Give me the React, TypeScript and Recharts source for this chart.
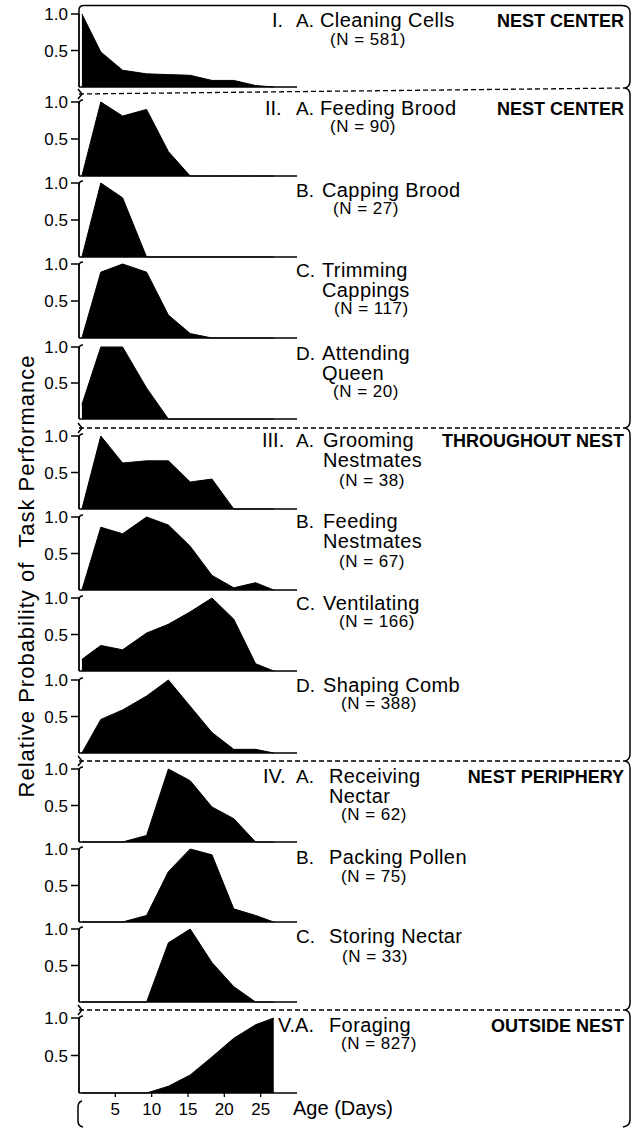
import React from 'react';
import { Area, AreaChart, XAxis, YAxis } from 'recharts';

// ages (days) at which the task probabilities were plotted
const days = [0.4, 3, 6, 9.3, 12.3, 15.3, 18.3, 21.3, 24.3, 26.8];
const xTicks = [5, 10, 15, 20, 25];
const yTicks = [0.5, 1];

// relative probability of task performance, one array per task
const cleaningCells = [1.0, 0.48, 0.23, 0.18, 0.17, 0.16, 0.09, 0.09, 0.02, 0];
const feedingBrood = [0, 1.0, 0.81, 0.9, 0.33, 0, 0, 0, 0, 0];
const cappingBrood = [0, 1.0, 0.8, 0, 0, 0, 0, 0, 0, 0];
const trimmingCappings = [0, 0.89, 1.0, 0.89, 0.31, 0.06, 0, 0, 0, 0];
const attendingQueen = [0.2, 1.0, 1.0, 0.43, 0, 0, 0, 0, 0, 0];
const groomingNestmates = [0, 1.0, 0.63, 0.66, 0.66, 0.37, 0.41, 0, 0, 0];
const feedingNestmates = [0, 0.86, 0.77, 1.0, 0.89, 0.6, 0.2, 0.03, 0.1, 0];
const ventilating = [0.16, 0.35, 0.29, 0.52, 0.64, 0.81, 1.0, 0.71, 0.1, 0];
const shapingComb = [0, 0.46, 0.59, 0.78, 1.0, 0.64, 0.28, 0.05, 0.05, 0];
const receivingNectar = [0, 0, 0, 0.09, 1.0, 0.84, 0.48, 0.32, 0, 0];
const packingPollen = [0, 0, 0, 0.09, 0.69, 1.0, 0.92, 0.18, 0.09, 0];
const storingNectar = [0, 0, 0, 0, 0.81, 1.0, 0.54, 0.21, 0, 0];
const foraging = [0, 0, 0, 0, 0.09, 0.24, 0.48, 0.73, 0.91, 1.0];

const tasks = [
  { key: 'cleaning', values: cleaningCells, roman: 'I.', letter: 'A.', name: ['Cleaning Cells'], n: '(N = 581)', zone: 'NEST CENTER' },
  { key: 'feedBrood', values: feedingBrood, roman: 'II.', letter: 'A.', name: ['Feeding Brood'], n: '(N = 90)', zone: 'NEST CENTER' },
  { key: 'capping', values: cappingBrood, roman: '', letter: 'B.', name: ['Capping Brood'], n: '(N = 27)', zone: '' },
  { key: 'trimming', values: trimmingCappings, roman: '', letter: 'C.', name: ['Trimming', 'Cappings'], n: '(N = 117)', zone: '' },
  { key: 'queen', values: attendingQueen, roman: '', letter: 'D.', name: ['Attending', 'Queen'], n: '(N = 20)', zone: '' },
  { key: 'grooming', values: groomingNestmates, roman: 'III.', letter: 'A.', name: ['Grooming', 'Nestmates'], n: '(N = 38)', zone: 'THROUGHOUT NEST' },
  { key: 'feedNest', values: feedingNestmates, roman: '', letter: 'B.', name: ['Feeding', 'Nestmates'], n: '(N = 67)', zone: '' },
  { key: 'ventilating', values: ventilating, roman: '', letter: 'C.', name: ['Ventilating'], n: '(N = 166)', zone: '' },
  { key: 'shaping', values: shapingComb, roman: '', letter: 'D.', name: ['Shaping Comb'], n: '(N = 388)', zone: '' },
  { key: 'receiving', values: receivingNectar, roman: 'IV.', letter: 'A.', name: ['Receiving', 'Nectar'], n: '(N = 62)', zone: 'NEST PERIPHERY' },
  { key: 'pollen', values: packingPollen, roman: '', letter: 'B.', name: ['Packing Pollen'], n: '(N = 75)', zone: '' },
  { key: 'storing', values: storingNectar, roman: '', letter: 'C.', name: ['Storing Nectar'], n: '(N = 33)', zone: '' },
  { key: 'foraging', values: foraging, roman: 'V.A.', letter: '', name: ['Foraging'], n: '(N = 827)', zone: 'OUTSIDE NEST' },
];

const table = days.map((day, i) => {
  const row: Record<string, number> = { day };
  tasks.forEach((t) => (row[t.key] = t.values[i]));
  return row;
});

// page layout (pixels): plot top (1.0) / baseline (0) and text positions
const layout = [
  { top: 14, base: 87, romanX: 272, nameX: 320, nX: 330, nameY: 27, nY: 45 },
  { top: 102, base: 176, romanX: 265, nameX: 320, nX: 330, nameY: 115, nY: 132 },
  { top: 183, base: 257, romanX: 0, nameX: 322, nX: 333, nameY: 197, nY: 214 },
  { top: 264, base: 338, romanX: 0, nameX: 322, nX: 334, nameY: 277, nY: 314 },
  { top: 347, base: 419, romanX: 0, nameX: 322, nX: 333, nameY: 360, nY: 397 },
  { top: 436, base: 509, romanX: 262, nameX: 323, nX: 339, nameY: 447, nY: 486 },
  { top: 517, base: 590, romanX: 0, nameX: 323, nX: 339, nameY: 528, nY: 567 },
  { top: 598, base: 671, romanX: 0, nameX: 323, nX: 339, nameY: 610, nY: 627 },
  { top: 680, base: 753, romanX: 0, nameX: 323, nX: 341, nameY: 692, nY: 709 },
  { top: 769, base: 842, romanX: 263, nameX: 329, nX: 341, nameY: 783, nY: 820 },
  { top: 849, base: 922, romanX: 0, nameX: 329, nX: 341, nameY: 864, nY: 882 },
  { top: 929, base: 1002, romanX: 0, nameX: 329, nX: 342, nameY: 943, nY: 962 },
  { top: 1018, base: 1093, romanX: 278, nameX: 329, nX: 341, nameY: 1032, nY: 1049 },
];

const separators = [
  { yl: 94, yr: 88 },
  { yl: 428, yr: 428 },
  { yl: 761, yr: 761 },
  { yl: 1010, yr: 1010 },
];

const FONT = '"Liberation Sans", Arial, Helvetica, sans-serif';
const AXIS_X = 79;
const PAD_TOP = 12;
const X_AXIS_H = 32;
const BRACE_X = 630;
const TIP_X = 625;

function Panel({ idx }: { idx: number }) {
  const t = tasks[idx];
  const l = layout[idx];
  const last = idx === tasks.length - 1;
  const height = PAD_TOP + (l.base - l.top) + X_AXIS_H;
  return (
    <div style={{ position: 'absolute', left: 0, top: l.top - PAD_TOP }}>
      <AreaChart width={300} height={height} data={table} margin={{ top: PAD_TOP, right: 3, bottom: 0, left: 0 }}>
        <XAxis
          dataKey="day"
          type="number"
          domain={[0, 30]}
          ticks={xTicks}
          interval={0}
          height={X_AXIS_H}
          tickSize={4}
          tickMargin={6}
          axisLine={{ stroke: '#000', strokeWidth: 1.6 }}
          tickLine={{ stroke: '#000', strokeWidth: 1.3 }}
          tick={last ? { fill: '#000', fontSize: 17, fontFamily: FONT } : false}
        />
        <YAxis
          type="number"
          domain={[0, 1]}
          ticks={yTicks}
          interval={0}
          width={AXIS_X}
          tickSize={8}
          tickMargin={3}
          tickFormatter={(v: number) => v.toFixed(1)}
          axisLine={{ stroke: '#000', strokeWidth: 1.8 }}
          tickLine={{ stroke: '#000', strokeWidth: 1.5 }}
          tick={{ fill: '#000', fontSize: 17, fontFamily: FONT }}
        />
        <Area
          type="linear"
          dataKey={t.key}
          stroke="#000"
          strokeWidth={1}
          fill="#000"
          fillOpacity={1}
          dot={false}
          activeDot={false}
          isAnimationActive={false}
        />
      </AreaChart>
    </div>
  );
}

function Decorations() {
  const groupYs = [5.5, ...separators.map((s) => s.yr), 1127];
  return (
    <svg width={639} height={1129} style={{ position: 'absolute', left: 0, top: 0, pointerEvents: 'none' }}>
      <g fill="none" stroke="#000" strokeWidth={1.5}>
        {/* top rule joined to first axis */}
        <path d={`M${AXIS_X} 14 L${AXIS_X} 10 Q${AXIS_X} 5.5 84 5.5 L${TIP_X - 3} 5.5`} />
        {groupYs.slice(0, -1).map((y1, i) => {
          const y2 = groupYs[i + 1];
          const start = i === 0 ? `M${TIP_X - 3} ${y1} Q${BRACE_X} ${y1} ${BRACE_X} ${y1 + 7}` : `M${TIP_X} ${y1} Q${BRACE_X} ${y1 + 1} ${BRACE_X} ${y1 + 7}`;
          return <path key={i} d={`${start} L${BRACE_X} ${y2 - 7} Q${BRACE_X} ${y2 - 1} ${TIP_X - (i === groupYs.length - 2 ? 2 : 0)} ${y2}`} />;
        })}
        {separators.map((s, i) => (
          <g key={i}>
            <line x1={AXIS_X} y1={s.yl} x2={TIP_X} y2={s.yr} strokeDasharray="5 3" strokeWidth={1.3} />
            <path d={`M${AXIS_X - 1} ${s.yl - 5} L${AXIS_X + 3} ${s.yl} L${AXIS_X - 1} ${s.yl + 5}`} />
          </g>
        ))}
        {layout.slice(1).map((l, i) => (
          <path key={i} d={`M${AXIS_X} ${l.top + 2} Q${AXIS_X} ${l.top - 2} ${AXIS_X + 4} ${l.top - 2}`} />
        ))}
        <path d={`M82 1101 Q78 1102 78 1107 L78 1121 Q78 1126 83 1127`} />
      </g>
      <g fill="#000" fontFamily={FONT}>
        <text
          x={26}
          y={576}
          transform="rotate(-90 26 576)"
          textAnchor="middle"
          dominantBaseline="central"
          fontSize={22}
          letterSpacing={1}
          style={{ whiteSpace: 'pre' }}
        >
          {'Relative Probability of  Task Performance'}
        </text>
        {tasks.map((t, i) => {
          const l = layout[i];
          return (
            <g key={t.key}>
              {t.roman && (
                <text x={l.romanX} y={l.nameY} fontSize={20}>
                  {t.roman}
                </text>
              )}
              {t.letter && (
                <text x={296} y={l.nameY} fontSize={19}>
                  {t.letter}
                </text>
              )}
              {t.name.map((line, j) => (
                <text key={j} x={l.nameX} y={l.nameY + j * 20} fontSize={20} letterSpacing={0.4}>
                  {line}
                </text>
              ))}
              <text x={l.nX} y={l.nY} fontSize={17} letterSpacing={0.5}>
                {t.n}
              </text>
              {t.zone && (
                <text x={624} y={l.nameY} fontSize={18} fontWeight="bold" textAnchor="end">
                  {t.zone}
                </text>
              )}
            </g>
          );
        })}
        <text x={293} y={1115} fontSize={20}>
          Age (Days)
        </text>
      </g>
    </svg>
  );
}

export default function App() {
  return (
    <div style={{ position: 'absolute', left: 0, top: 0, width: 639, height: 1129, background: '#fff', fontFamily: FONT }}>
      {tasks.map((_, i) => (
        <Panel key={i} idx={i} />
      ))}
      <Decorations />
    </div>
  );
}
